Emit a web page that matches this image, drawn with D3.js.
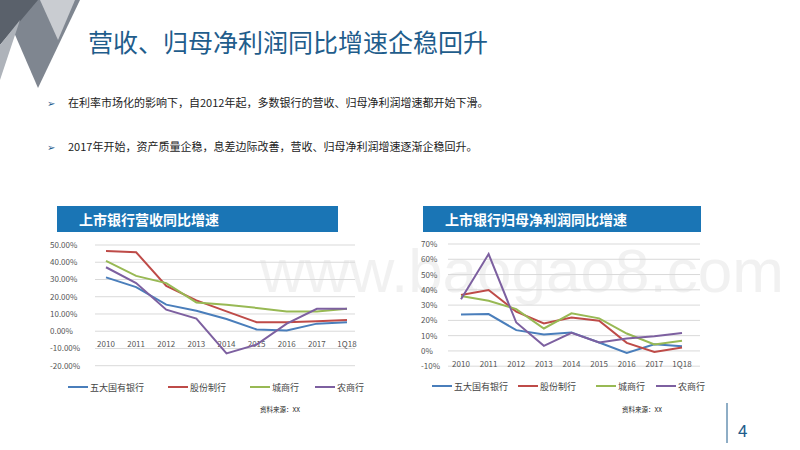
<!DOCTYPE html><html><head><meta charset="utf-8"><script src="https://cdn.jsdelivr.net/npm/d3@7"></script>
<style>body{margin:0;background:#fff}svg{font-family:"Noto Sans CJK SC","Noto Sans",sans-serif}</style></head><body><svg id="s" width="800" height="450"></svg>
<script>
const categories=["2010","2011","2012","2013","2014","2015","2016","2017","1Q18"];
const seriesNames=["五大国有银行","股份制行","城商行","农商行"];
const colors=["#4a7ebb","#be4b48","#98b954","#7d60a0"];
const revBig5=[31.2,25.6,15.4,11.9,7.1,1,0.4,4.4,5.2];
const revJoint=[46.5,45.8,26.3,17.9,11.5,5.2,5.2,5.8,6.5];
const revCity=[40.8,32.1,27.9,16.7,15.4,13.5,11.5,11.5,13];
const revRural=[37.1,27.9,12.5,7.3,-12.9,-7.7,4.4,13,13];
const npBig5=[23.9,24.1,13.6,10.7,12,5.5,-1.3,4.4,3.1];
const npJoint=[36.6,39.9,25.7,18,21.9,19.7,5.3,-0.7,2.2];
const npCity=[36,32.9,27.4,14.7,24.6,21.3,11.4,4.2,6.6];
const npRural=[33.8,63.4,18.6,3.3,11.8,5.5,8.1,9.6,11.8];
const revTicks=[50,40,30,20,10,0,-10,-20];
const npTicks=[70,60,50,40,30,20,10,0,-10];
const svg=d3.select("#s");
svg.append("polygon").attr("points","0,0 80,0 38,88").attr("fill","#7f8690");
svg.append("polygon").attr("points","0,0 38,0 0,45").attr("fill","#5a616b");
svg.append("polygon").attr("points","40,0 75,0 58,40").attr("fill","#c9ccd1");
svg.append("polygon").attr("points","0,45 20,20 0,80").attr("fill","#aeb3ba");
svg.append("text").attr("x",260).attr("y",292).attr("font-size",62).attr("fill","#000").attr("opacity",0.05).attr("font-family","Arial").text("www.baogao8.com");
svg.append("text").attr("x",88).attr("y",52).attr("font-size",25).attr("fill","#1f5d8c").text("营收、归母净利润同比增速企稳回升");
[["在利率市场化的影响下，自2012年起，多数银行的营收、归母净利润增速都开始下滑。",107],["2017年开始，资产质量企稳，息差边际改善，营收、归母净利润增速逐渐企稳回升。",151]].forEach(([t,y])=>{
 svg.append("text").attr("x",47).attr("y",y).attr("font-size",10).attr("fill","#1f5d8c").text("➢");
 svg.append("text").attr("x",68).attr("y",y).attr("font-size",11).attr("fill","#222").text(t);});
svg.append("text").attr("x",738).attr("y",437).attr("font-size",17).attr("fill","#1f5d8c").text("4");
svg.append("line").attr("x1",727).attr("x2",727).attr("y1",403).attr("y2",443).attr("stroke","#1f5d8c");
function chart(o){
 svg.append("rect").attr("x",o.bx).attr("y",206).attr("width",o.bw).attr("height",26).attr("fill","#1a75b5");
 svg.append("text").attr("x",o.bx+22).attr("y",225).attr("font-size",14).attr("font-weight","bold").attr("fill","#fff").text(o.title);
 const x=d3.scalePoint().domain(categories).range(o.xr);
 const y=d3.scaleLinear().domain([o.ticks[o.ticks.length-1],o.ticks[0]]).range(o.yr);
 const g=svg.append("g");
 o.ticks.forEach(t=>{g.append("line").attr("x1",o.gx[0]).attr("x2",o.gx[1]).attr("y1",y(t)).attr("y2",y(t)).attr("stroke","#d9d9d9");
  g.append("text").attr("x",o.lx).attr("y",y(t)+3).attr("font-size",8).attr("fill","#555").text(o.fmt(t));});
 categories.forEach(c=>g.append("text").attr("x",x(c)).attr("y",o.catY).attr("text-anchor","middle").attr("font-size",8).attr("fill","#555").text(c));
 const line=d3.line().x((d,i)=>x(categories[i])).y(d=>y(d));
 o.data.forEach((d,i)=>g.append("path").attr("d",line(d)).attr("fill","none").attr("stroke",colors[i]).attr("stroke-width",2));
 o.legX.forEach((lx,i)=>{g.append("line").attr("x1",lx).attr("x2",lx+20).attr("y1",o.legY).attr("y2",o.legY).attr("stroke",colors[i]).attr("stroke-width",2);
  g.append("text").attr("x",lx+22).attr("y",o.legY+3.5).attr("font-size",9).attr("fill","#444").text(seriesNames[i]);});
 g.append("text").attr("x",o.srcX).attr("y",412).attr("font-size",6.5).attr("fill","#222").text("资料来源：XX");
}
chart({bx:57,bw:281,title:"上市银行营收同比增速",xr:[106,347],yr:[365.7,245],ticks:revTicks,gx:[95,355],lx:50,fmt:t=>t.toFixed(2)+"%",catY:347,
 data:[revBig5,revJoint,revCity,revRural],legX:[68,168,250,315],legY:387,srcX:260});
chart({bx:423,bw:278,title:"上市银行归母净利润同比增速",xr:[461,682],yr:[366.2,244],ticks:npTicks,gx:[448,700],lx:421,fmt:t=>t+"%",catY:367,
 data:[npBig5,npJoint,npCity,npRural],legX:[432,518,596,656],legY:386,srcX:622});
</script></body></html>
